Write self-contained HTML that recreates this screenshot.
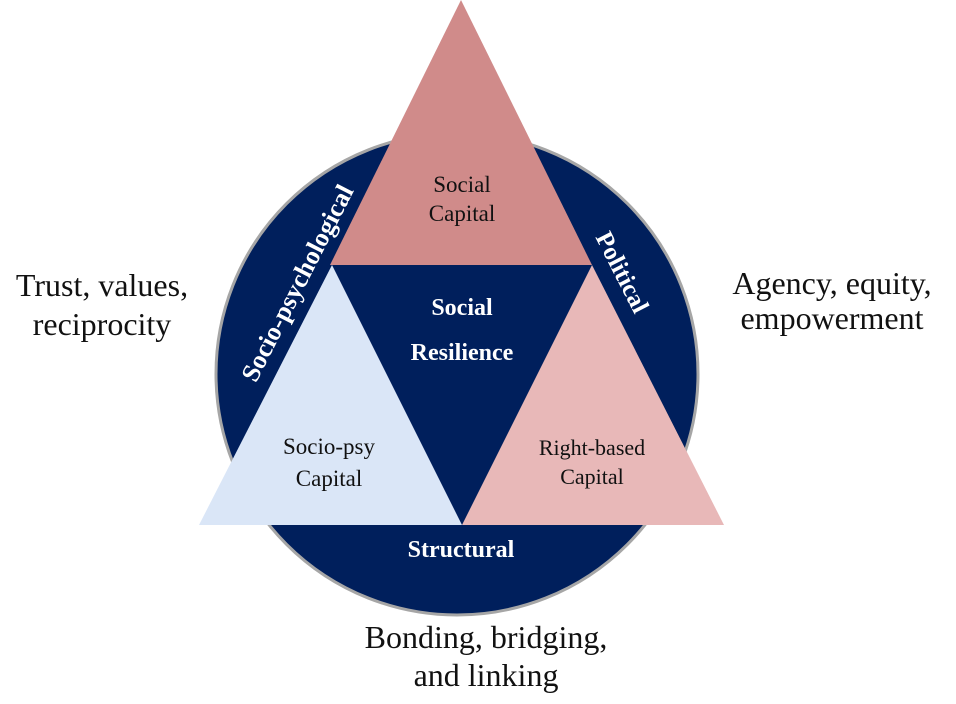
<!DOCTYPE html>
<html><head><style>body{margin:0;background:#fff}</style></head><body>
<svg width="956" height="699" viewBox="0 0 956 699" xmlns="http://www.w3.org/2000/svg" font-family="'Liberation Serif', serif">
<circle cx="457" cy="374" r="241" fill="#001f5c" stroke="#a6a6a6" stroke-width="3"/>
<polygon points="461,0 592,265 330,265" fill="#d08b8a"/>
<polygon points="332,265 462,525 199,525" fill="#dae6f7"/>
<polygon points="592,265 724,525 462,525" fill="#e8b8b8"/>
<g font-size="23" fill="#111" text-anchor="middle">
<text x="462" y="192">Social</text>
<text x="462" y="221">Capital</text>
<text x="329" y="454">Socio-psy</text>
<text x="329" y="486">Capital</text>
<text x="592" y="455" font-size="22">Right-based</text>
<text x="592" y="484" font-size="22">Capital</text>
</g>
<g font-size="24" fill="#fff" font-weight="bold" text-anchor="middle">
<text x="462" y="315">Social</text>
<text x="462" y="360">Resilience</text>
<text x="461" y="557">Structural</text>
<text transform="translate(305,287) rotate(-63)" font-size="26">Socio-psychological</text>
<text transform="translate(615,276) rotate(63)" font-size="25">Political</text>
</g>
<g font-size="32" fill="#111" text-anchor="middle">
<text x="102" y="296">Trust, values,</text>
<text x="102" y="335">reciprocity</text>
<text x="832" y="294">Agency, equity,</text>
<text x="832" y="329">empowerment</text>
<text x="486" y="648">Bonding, bridging,</text>
<text x="486" y="686">and linking</text>
</g>
</svg>
</body></html>
